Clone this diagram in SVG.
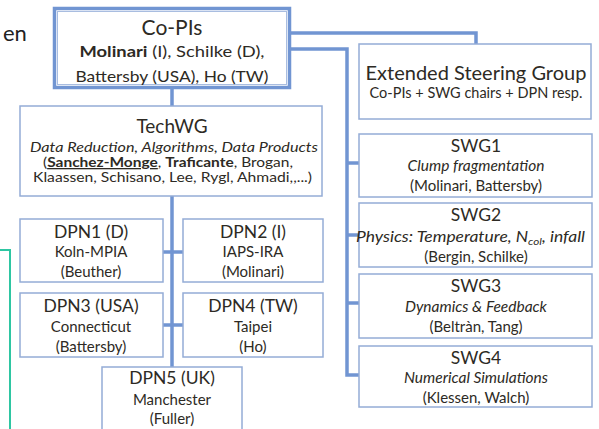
<svg xmlns="http://www.w3.org/2000/svg" width="599" height="429" viewBox="0 0 599 429">
<style>
text{font-family:Lato,"Liberation Sans",sans-serif;fill:#2d2a24;text-anchor:middle}
.box{fill:#fff;stroke:#94acd6;stroke-width:1.5}
.conn{fill:none;stroke:#7195d2;stroke-width:3.5}
.t{font-size:17.5px}
.s{font-size:15px}
.i{font-size:15.5px;font-style:italic}
.tw{font-size:13px}
.b{font-weight:bold}
</style>
<rect width="599" height="429" fill="#fff"/>
<text x="3" y="41" style="font-size:22px;text-anchor:start;fill:#222">en</text>
<path d="M0 250 H10 V429" fill="none" stroke="#2ec6a2" stroke-width="2"/>
<g id="connectors">
<path class="conn" d="M172 89 V106"/>
<path class="conn" d="M172 196 V367"/>
<path class="conn" d="M163 252 H183 M163 325 H183"/>
<path class="conn" d="M290 33 H476 V44"/>
<path class="conn" d="M290 49 H347 V375 H359"/>
<path class="conn" d="M347 163 H359 M347 235 H359 M347 303 H359"/>
</g>
<g id="copis">
<rect x="54.5" y="8.5" width="235" height="79" fill="#fff" stroke="#7195d2" stroke-width="3.5"/>
<rect x="57.5" y="11.5" width="229" height="73" fill="none" stroke="#a9bde0" stroke-width="1"/>
<text x="172" y="35" style="font-size:21px">Co-PIs</text>
<text x="172" y="57" style="font-size:16px" textLength="185" lengthAdjust="spacingAndGlyphs"><tspan class="b">Molinari</tspan> (I), Schilke (D),</text>
<text x="172" y="82" style="font-size:16px" textLength="193" lengthAdjust="spacingAndGlyphs">Battersby (USA), Ho (TW)</text>
</g>
<g id="esg">
<rect class="box" x="359" y="44" width="232" height="75"/>
<text x="476" y="80" style="font-size:20px">Extended Steering Group</text>
<text x="476" y="98" style="font-size:14.5px">Co-PIs + SWG chairs + DPN resp.</text>
</g>
<g id="techwg">
<rect class="box" x="20" y="106" width="302" height="90"/>
<text x="172" y="133" style="font-size:19px">TechWG</text>
<text x="174" y="152" class="tw" font-style="italic" textLength="288" lengthAdjust="spacingAndGlyphs">Data Reduction, Algorithms, Data Products</text>
<text x="168" y="167" class="tw" textLength="250" lengthAdjust="spacingAndGlyphs">(<tspan class="b" text-decoration="underline">Sanchez-Monge</tspan>, <tspan class="b">Traficante</tspan>, Brogan,</text>
<text x="172.5" y="182" class="tw" textLength="279" lengthAdjust="spacingAndGlyphs">Klaassen, Schisano, Lee, Rygl, Ahmadi,,...)</text>
</g>
<g id="dpn1">
<rect class="box" x="20" y="219" width="143" height="63"/>
<text x="91" y="238" class="t">DPN1 (D)</text>
<text x="91" y="257" class="s">Koln-MPIA</text>
<text x="91" y="277" class="s">(Beuther)</text>
</g>
<g id="dpn2">
<rect class="box" x="183" y="219" width="140" height="63"/>
<text x="253" y="238" class="t">DPN2 (I)</text>
<text x="253" y="257" class="s">IAPS-IRA</text>
<text x="253" y="277" class="s">(Molinari)</text>
</g>
<g id="dpn3">
<rect class="box" x="20" y="293" width="143" height="64"/>
<text x="91" y="312" class="t">DPN3 (USA)</text>
<text x="91" y="332" class="s">Connecticut</text>
<text x="91" y="352" class="s">(Battersby)</text>
</g>
<g id="dpn4">
<rect class="box" x="183" y="293" width="140" height="64"/>
<text x="253" y="312" class="t">DPN4 (TW)</text>
<text x="253" y="332" class="s">Taipei</text>
<text x="253" y="352" class="s">(Ho)</text>
</g>
<g id="dpn5">
<rect class="box" x="102" y="367" width="140" height="70"/>
<text x="172" y="384" class="t">DPN5 (UK)</text>
<text x="172" y="405" class="s">Manchester</text>
<text x="172" y="424" class="s">(Fuller)</text>
</g>
<g id="swg1">
<rect class="box" x="359" y="134" width="233" height="63"/>
<text x="476" y="152" class="t">SWG1</text>
<text x="476" y="171" class="i">Clump fragmentation</text>
<text x="476" y="191" class="s">(Molinari, Battersby)</text>
</g>
<g id="swg2">
<rect class="box" x="359" y="203" width="233" height="64"/>
<text x="476" y="221" class="t">SWG2</text>
<text x="470.5" y="242" style="font-size:15px;font-style:italic" textLength="229" lengthAdjust="spacingAndGlyphs">Physics: Temperature, N<tspan font-size="10" dy="3">col</tspan><tspan dy="-3">, infall</tspan></text>
<text x="476" y="262" class="s">(Bergin, Schilke)</text>
</g>
<g id="swg3">
<rect class="box" x="359" y="274" width="233" height="64"/>
<text x="476" y="292" class="t">SWG3</text>
<text x="476" y="312" class="i">Dynamics &amp; Feedback</text>
<text x="476" y="332" class="s">(Beltràn, Tang)</text>
</g>
<g id="swg4">
<rect class="box" x="359" y="346" width="233" height="61"/>
<text x="476" y="364" class="t">SWG4</text>
<text x="476" y="383" class="i">Numerical Simulations</text>
<text x="476" y="403" class="s">(Klessen, Walch)</text>
</g>
</svg>
